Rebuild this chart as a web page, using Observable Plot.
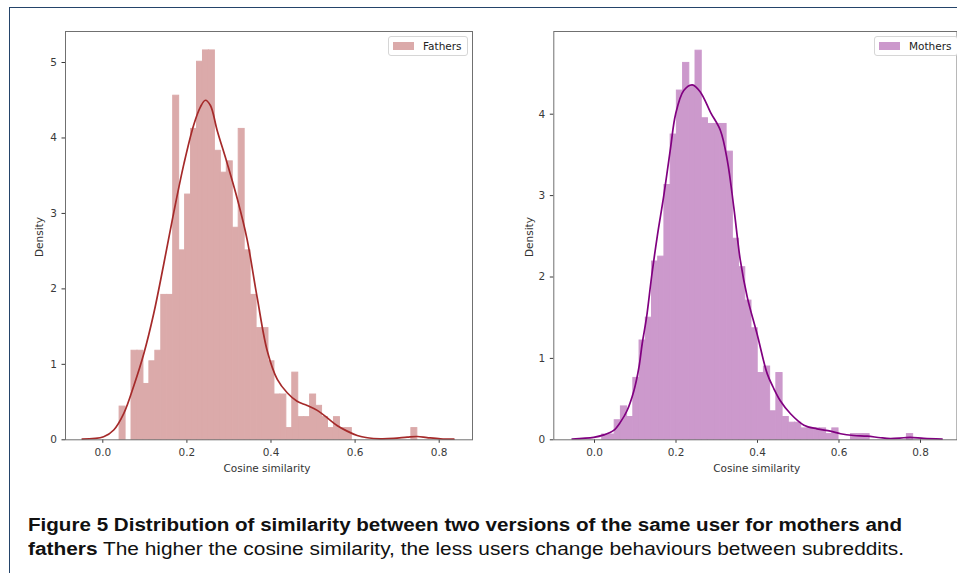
<!DOCTYPE html>
<html>
<head>
<meta charset="utf-8">
<script src="https://cdn.jsdelivr.net/npm/d3@7"></script>
<script src="https://cdn.jsdelivr.net/npm/@observablehq/plot@0.6"></script>
<style>
  html, body { margin: 0; padding: 0; background: #fff; }
  body { width: 957px; height: 573px; position: relative; overflow: hidden; }
  .frame-border { position: absolute; left: 9px; top: 7px; right: -5px; bottom: -5px;
    border-left: 1.5px solid #24446a; border-top: 1.5px solid #24446a; }
  .panel { position: absolute; top: 0; }
  .axlabel { position: absolute; font-family: "DejaVu Sans", sans-serif; font-size: 10.5px; color: #333; white-space: nowrap; }
  .legend { position: absolute; background: #fff; border: 1px solid #d6d6d6; border-radius: 3px;
    font-family: "DejaVu Sans", sans-serif; font-size: 10.5px; color: #222; box-sizing: border-box; }
  .legend .patch { position: absolute; left: 4px; top: 5px; width: 21px; height: 7.5px; }
  .legend .lab { position: absolute; left: 34px; top: 2px; line-height: 14px; }
  .caption { position: absolute; left: 28px; font-family: "Liberation Sans", Arial, sans-serif; font-size: 17.5px;
    line-height: 24px; color: #111; white-space: nowrap; transform-origin: 0 0; }
</style>
</head>
<body>
<div class="frame-border"></div>
<div id="left" class="panel" style="left:0px"></div>
<div id="right" class="panel" style="left:490px"></div>

<div class="axlabel" id="xl1">Cosine similarity</div>
<div class="axlabel" id="xl2">Cosine similarity</div>
<div class="axlabel" id="yl1" style="transform: rotate(-90deg); transform-origin: 0 0;">Density</div>
<div class="axlabel" id="yl2" style="transform: rotate(-90deg); transform-origin: 0 0;">Density</div>

<div class="legend" style="left:388px; top:36px; width:80px; height:20px;">
  <div class="patch" id="p1"></div><div class="lab">Fathers</div>
</div>
<div class="legend" style="left:874px; top:36px; width:84px; height:20px;">
  <div class="patch" id="p2"></div><div class="lab">Mothers</div>
</div>

<div class="caption" id="cap1" style="top:513px;"><b>Figure 5 Distribution of similarity between two versions of the same user for mothers and</b></div>
<div class="caption" id="cap2" style="top:537px;"><b>fathers</b> The higher the cosine similarity, the less users change behaviours between subreddits.</div>

<script>
// ---------- data ----------
const xTicks = [0, 0.2, 0.4, 0.6, 0.8];
const fathersYTicks = [0, 1, 2, 3, 4, 5];
const mothersYTicks = [0, 1, 2, 3, 4];

// histogram (density per bin), 50 bins each
const fathersBinStart = 0.040;
const fathersBinWidth = 0.01416;
const fathersDensity = [
  0.44, 0, 1.18, 1.18, 0.74, 1.04, 1.18, 1.92, 1.92, 4.56,
  2.51, 3.25, 4.12, 5.01, 5.16, 5.16, 3.83, 3.54, 3.69, 2.81,
  4.12, 2.51, 1.92, 1.48, 1.48, 1.04, 0.60, 0.60, 0.155, 0.89,
  0.30, 0.30, 0.60, 0.45, 0.30, 0.155, 0.30, 0.155, 0.155, 0,
  0, 0, 0, 0, 0, 0, 0, 0, 0, 0.155
];
const mothersBinStart = 0.019;
const mothersBinWidth = 0.01526;
const mothersDensity = [
  0.065, 0.065, 0.24, 0.41, 0.28, 0.76, 1.22, 1.50, 2.19, 2.25,
  3.13, 3.75, 4.29, 4.63, 4.35, 4.78, 3.95, 3.88, 3.88, 3.88,
  3.54, 2.47, 2.12, 1.71, 1.37, 0.82, 0.90, 0.35, 0.82, 0.28,
  0.21, 0.21, 0.14, 0.14, 0.14, 0.14, 0.07, 0.14, 0, 0,
  0.07, 0.07, 0.07, 0, 0, 0, 0, 0, 0, 0.07
];

// KDE curves
const fathersKdeX = [-0.049, 0.002, 0.026, 0.05, 0.074, 0.0975, 0.121, 0.145, 0.169, 0.193, 0.216, 0.232, 0.244, 0.256, 0.272, 0.296, 0.320, 0.343, 0.367, 0.391, 0.415, 0.439, 0.462, 0.486, 0.510, 0.534, 0.557, 0.581, 0.605, 0.629, 0.660, 0.692, 0.724, 0.748, 0.771, 0.803, 0.835];
const fathersKdeY = [0.01, 0.04, 0.13, 0.35, 0.72, 1.14, 1.67, 2.33, 3.02, 3.66, 4.17, 4.41, 4.50, 4.43, 4.10, 3.66, 3.19, 2.66, 1.89, 1.18, 0.80, 0.62, 0.51, 0.455, 0.39, 0.29, 0.19, 0.115, 0.057, 0.027, 0.013, 0.018, 0.035, 0.044, 0.03, 0.013, 0.008];

const mothersKdeX = [-0.055, -0.002, 0.023, 0.047, 0.064, 0.080, 0.0965, 0.109, 0.117, 0.1276, 0.14, 0.154, 0.170, 0.187, 0.199, 0.219, 0.240, 0.260, 0.285, 0.309, 0.326, 0.342, 0.358, 0.375, 0.399, 0.424, 0.44, 0.456, 0.481, 0.514, 0.546, 0.579, 0.604, 0.636, 0.669, 0.702, 0.726, 0.759, 0.775, 0.808, 0.853];
const mothersKdeY = [0.01, 0.03, 0.06, 0.115, 0.22, 0.36, 0.6, 0.89, 1.18, 1.5, 2.0, 2.5, 3.0, 3.6, 4.0, 4.29, 4.36, 4.27, 4.02, 3.80, 3.43, 2.85, 2.2, 1.75, 1.3, 0.81, 0.63, 0.48, 0.32, 0.18, 0.135, 0.106, 0.074, 0.053, 0.045, 0.025, 0.016, 0.025, 0.029, 0.018, 0.008];

const fathersFill = "#dbaaaa", fathersLine = "#a52a2a";
const mothersFill = "#cc99cc", mothersLine = "#800080";

// ---------- build ----------
function bins(start, width, dens) {
  return dens.map((d, i) => ({x1: start + i * width, x2: start + (i + 1) * width, y: d})).filter(b => b.y > 0);
}
function curve(xs, ys) { return xs.map((x, i) => ({x, y: ys[i]})); }

function panel({width, height, mL, mR, mT, mB, xDomain, yDomain, yTicks, binsData, kde, fill, stroke}) {
  return Plot.plot({
    width, height,
    marginLeft: mL, marginRight: mR, marginTop: mT, marginBottom: mB,
    style: {fontFamily: "DejaVu Sans, sans-serif", fontSize: "10.5px", color: "#3a3a3a", background: "transparent", overflow: "visible"},
    x: {domain: xDomain, ticks: xTicks, tickFormat: d => d.toFixed(1), tickSize: 3.5, tickPadding: 5, label: null},
    y: {domain: yDomain, ticks: yTicks, tickFormat: d => String(d), tickSize: 3.5, tickPadding: 5, label: null},
    marks: [
      Plot.rectY(binsData, {x1: "x1", x2: "x2", y: "y", fill, stroke: fill, strokeWidth: 1}),
      Plot.line(kde, {x: "x", y: "y", stroke, strokeWidth: 1.7, curve: "catmull-rom"}),
      Plot.frame({stroke: "#707070", strokeWidth: 1})
    ]
  });
}

const left = panel({
  width: 490, height: 480, mL: 65, mR: 18, mT: 31, mB: 40.7,
  xDomain: [-0.0887, 0.8792], yDomain: [0, 5.411], yTicks: fathersYTicks,
  binsData: bins(fathersBinStart, fathersBinWidth, fathersDensity),
  kde: curve(fathersKdeX, fathersKdeY), fill: fathersFill, stroke: fathersLine
});
document.getElementById("left").appendChild(left);

const right = panel({
  width: 467, height: 480, mL: 63.3, mR: 0.5, mT: 31, mB: 40.7,
  xDomain: [-0.0999, 0.8896], yDomain: [0, 5.016], yTicks: mothersYTicks,
  binsData: bins(mothersBinStart, mothersBinWidth, mothersDensity),
  kde: curve(mothersKdeX, mothersKdeY), fill: mothersFill, stroke: mothersLine
});
document.getElementById("right").appendChild(right);

document.getElementById("p1").style.background = fathersFill;
document.getElementById("p2").style.background = mothersFill;

// axis labels
function place(id, cx, cy, rotated) {
  const el = document.getElementById(id);
  const w = el.offsetWidth, h = el.offsetHeight;
  if (rotated) { el.style.left = (cx - h / 2) + "px"; el.style.top = (cy + w / 2) + "px"; }
  else { el.style.left = (cx - w / 2) + "px"; el.style.top = (cy - h / 2) + "px"; }
}
place("xl1", 267, 467.5, false);
place("xl2", 756.7, 467.5, false);
place("yl1", 39.3, 237, true);
place("yl2", 529.3, 237, true);

// fit caption lines to reference widths
function fit(id, target) {
  const el = document.getElementById(id);
  const w = el.getBoundingClientRect().width;
  el.style.transform = `scaleX(${target / w})`;
}
fit("cap1", 874);
fit("cap2", 876);
</script>
</body>
</html>
